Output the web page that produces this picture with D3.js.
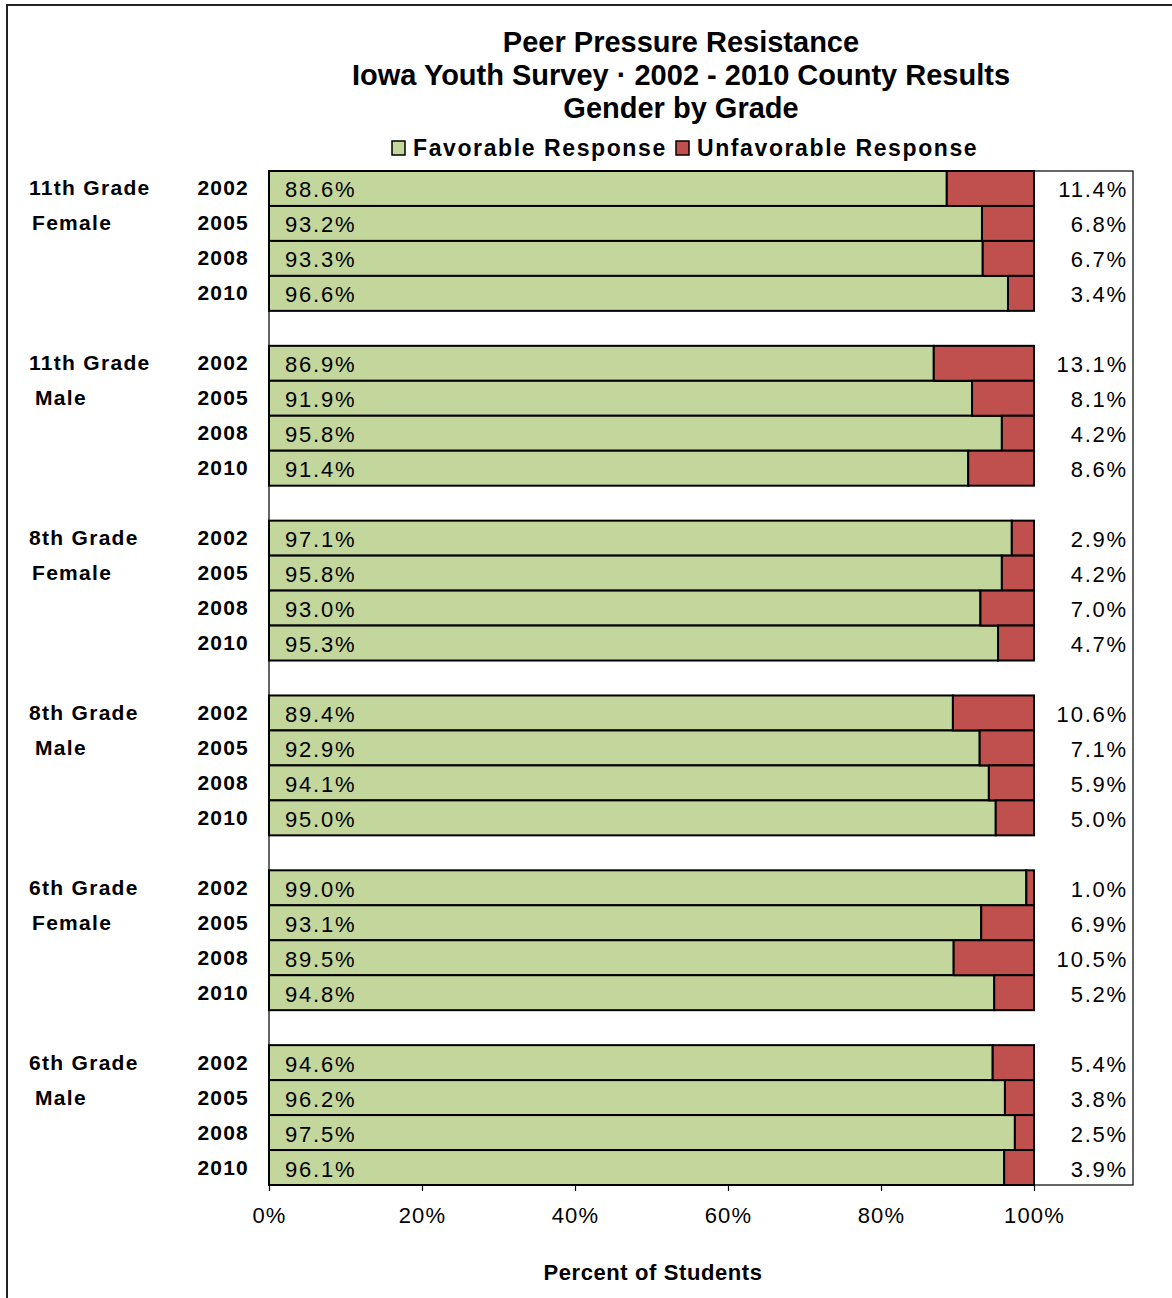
<!DOCTYPE html>
<html>
<head>
<meta charset="utf-8">
<script src="https://cdn.jsdelivr.net/npm/d3@7"></script>
<style>
  html, body { margin: 0; padding: 0; background: #fff; }
  svg { display: block; font-family: "Liberation Sans", Arial, sans-serif; }
</style>
</head>
<body>
<svg id="chart" width="1172" height="1298"></svg>
<script>
// ---- data ----
const grades = ["11th Grade", "11th Grade", "8th Grade", "8th Grade", "6th Grade", "6th Grade"];
const genders = ["Female", "Male", "Female", "Male", "Female", "Male"];
const years = ["2002", "2005", "2008", "2010"];
const favorable = [
  [88.6, 93.2, 93.3, 96.6],
  [86.9, 91.9, 95.8, 91.4],
  [97.1, 95.8, 93.0, 95.3],
  [89.4, 92.9, 94.1, 95.0],
  [99.0, 93.1, 89.5, 94.8],
  [94.6, 96.2, 97.5, 96.1]
];
const unfavorable = [
  [11.4, 6.8, 6.7, 3.4],
  [13.1, 8.1, 4.2, 8.6],
  [2.9, 4.2, 7.0, 4.7],
  [10.6, 7.1, 5.9, 5.0],
  [1.0, 6.9, 10.5, 5.2],
  [5.4, 3.8, 2.5, 3.9]
];
const seriesNames = ["Favorable Response", "Unfavorable Response"];
const xTicks = [0, 20, 40, 60, 80, 100];
const titleLines = ["Peer Pressure Resistance", "Iowa Youth Survey · 2002 - 2010 County Results", "Gender by Grade"];
const xTitle = "Percent of Students";

// ---- styles ----
const GREEN = "#C3D69B", RED = "#C0504D";

const svg = d3.select("#chart");

// outer frame
svg.append("path").attr("d", "M7,1298 L7,5 L1172,5")
  .attr("fill", "none").attr("stroke", "#222").attr("stroke-width", 2);

// build slot keys (4 rows per group + gap rows)
const keys = [];
genders.forEach((g, gi) => {
  years.forEach(y => keys.push(gi + "|" + y));
  if (gi < genders.length - 1) keys.push("gap" + gi);
});
const rows = [];
genders.forEach((g, gi) => years.forEach((y, yi) => rows.push({
  gi, yi, key: gi + "|" + y, year: y, fav: favorable[gi][yi], unf: unfavorable[gi][yi]
})));

const plot = { left: 269, right: 1133, top: 171, bottom: 1185 };
const x = d3.scaleLinear().domain([0, 100]).range([269, 1034]);
const y = d3.scaleBand().domain(keys).range([plot.top, plot.bottom]).padding(0);

// plot area border
svg.append("rect").attr("x", plot.left).attr("y", plot.top)
  .attr("width", plot.right - plot.left).attr("height", plot.bottom - plot.top)
  .attr("fill", "#fff").attr("stroke", "#000").attr("stroke-width", 1.2);

// bars
const g = svg.append("g");
g.selectAll("rect.fav").data(rows).join("rect").attr("class", "fav")
  .attr("x", x(0)).attr("y", d => y(d.key))
  .attr("width", d => x(d.fav) - x(0)).attr("height", y.bandwidth())
  .attr("fill", GREEN).attr("stroke", "#000").attr("stroke-width", 2);
g.selectAll("rect.unf").data(rows).join("rect").attr("class", "unf")
  .attr("x", d => x(d.fav)).attr("y", d => y(d.key))
  .attr("width", d => x(d.fav + d.unf) - x(d.fav)).attr("height", y.bandwidth())
  .attr("fill", RED).attr("stroke", "#000").attr("stroke-width", 2);

// value labels
const fmt = v => v.toFixed(1) + "%";
g.selectAll("text.favl").data(rows).join("text").attr("class", "favl")
  .attr("x", x(0) + 16).attr("y", d => y(d.key) + y.bandwidth() / 2 + 9)
  .attr("font-size", 22).attr("letter-spacing", 1.8).attr("fill", "#000")
  .text(d => fmt(d.fav));
g.selectAll("text.unfl").data(rows).join("text").attr("class", "unfl")
  .attr("x", 1128).attr("y", d => y(d.key) + y.bandwidth() / 2 + 9)
  .attr("text-anchor", "end")
  .attr("font-size", 22).attr("letter-spacing", 1.8).attr("fill", "#000")
  .text(d => fmt(d.unf));

// year labels
g.selectAll("text.year").data(rows).join("text").attr("class", "year")
  .attr("x", 249).attr("y", d => y(d.key) + y.bandwidth() / 2 + 7)
  .attr("text-anchor", "end").attr("font-size", 21).attr("font-weight", "bold")
  .attr("letter-spacing", 1.2)
  .text(d => d.year);

// group labels
genders.forEach((gen, gi) => {
  svg.append("text").attr("x", 29).attr("y", y(gi + "|" + years[0]) + y.bandwidth() / 2 + 7)
    .attr("font-size", 21).attr("font-weight", "bold").attr("letter-spacing", 1.3)
    .text(grades[gi]);
  svg.append("text").attr("x", gen === "Male" ? 35 : 32).attr("y", y(gi + "|" + years[1]) + y.bandwidth() / 2 + 7)
    .attr("font-size", 21).attr("font-weight", "bold").attr("letter-spacing", 1.3)
    .text(gen);
});

// x axis
const axis = svg.append("g").attr("transform", `translate(0,${plot.bottom})`)
  .call(d3.axisBottom(x).tickValues(xTicks).tickSize(6).tickFormat(d => d + "%"));
axis.select(".domain").remove();
axis.selectAll("line").attr("stroke", "#000").attr("stroke-width", 1.2);
axis.selectAll("text").attr("font-size", 22).attr("font-family", "Liberation Sans, Arial, sans-serif")
  .attr("fill", "#000").attr("y", 38).attr("dy", 0).attr("letter-spacing", 1.2);

svg.append("text").attr("x", 653).attr("y", 1280).attr("text-anchor", "middle")
  .attr("font-size", 22).attr("font-weight", "bold").attr("letter-spacing", 0.6).text(xTitle);

// title
titleLines.forEach((t, i) => {
  svg.append("text").attr("x", 681).attr("y", 52 + i * 33).attr("text-anchor", "middle")
    .attr("font-size", 29).attr("font-weight", "bold").text(t);
});

// legend
const legendX = [392, 676];
const legendColors = [GREEN, RED];
seriesNames.forEach((s, i) => {
  svg.append("rect").attr("x", legendX[i]).attr("y", 141).attr("width", 13).attr("height", 14)
    .attr("fill", legendColors[i]).attr("stroke", "#000").attr("stroke-width", 1.5);
  svg.append("text").attr("x", legendX[i] + 21).attr("y", 156)
    .attr("font-size", 23).attr("font-weight", "bold").attr("letter-spacing", 1.6)
    .text(s);
});
</script>
</body>
</html>
